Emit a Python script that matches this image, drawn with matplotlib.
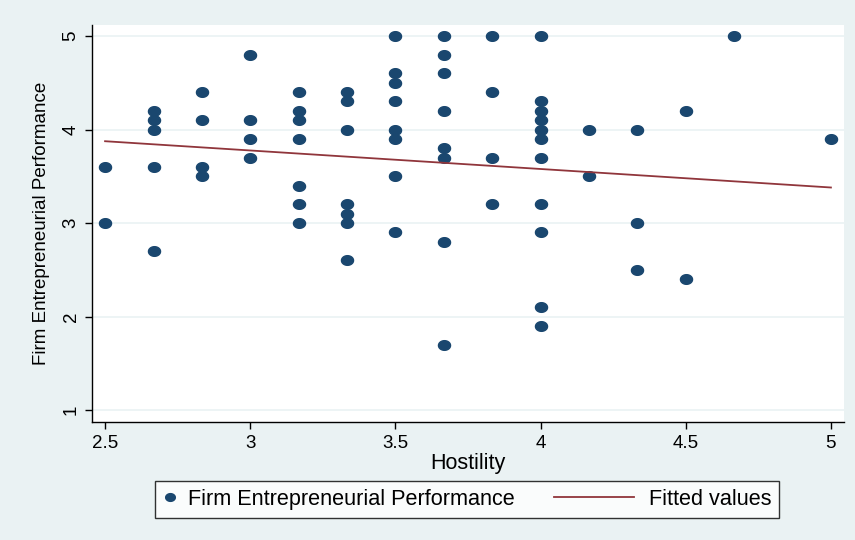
import numpy as np
import matplotlib
matplotlib.use("Agg")
import matplotlib.pyplot as plt
from matplotlib.path import Path
from matplotlib.legend_handler import HandlerLine2D

# data
hostility = [2.5, 2.5,
             2.667, 2.667, 2.667, 2.667, 2.667,
             2.833, 2.833, 2.833, 2.833,
             3.0, 3.0, 3.0, 3.0,
             3.167, 3.167, 3.167, 3.167, 3.167, 3.167, 3.167,
             3.333, 3.333, 3.333, 3.333, 3.333, 3.333, 3.333,
             3.5, 3.5, 3.5, 3.5, 3.5, 3.5, 3.5, 3.5,
             3.667, 3.667, 3.667, 3.667, 3.667, 3.667, 3.667, 3.667,
             3.833, 3.833, 3.833, 3.833,
             4.0, 4.0, 4.0, 4.0, 4.0, 4.0, 4.0, 4.0, 4.0, 4.0, 4.0,
             4.167, 4.167,
             4.333, 4.333, 4.333,
             4.5, 4.5,
             4.667,
             5.0]
performance = [3.6, 3.0,
               4.2, 4.1, 4.0, 3.6, 2.7,
               4.4, 4.1, 3.6, 3.5,
               4.8, 4.1, 3.9, 3.7,
               4.4, 4.2, 4.1, 3.9, 3.4, 3.2, 3.0,
               4.4, 4.3, 4.0, 3.2, 3.1, 3.0, 2.6,
               5.0, 4.6, 4.5, 4.3, 4.0, 3.9, 3.5, 2.9,
               5.0, 4.8, 4.6, 4.2, 3.8, 3.7, 2.8, 1.7,
               5.0, 4.4, 3.7, 3.2,
               5.0, 4.3, 4.2, 4.1, 4.0, 3.9, 3.7, 3.2, 2.9, 2.1, 1.9,
               4.0, 3.5,
               4.0, 3.0, 2.5,
               4.2, 2.4,
               5.0,
               3.9]
fit_x = [2.5, 5.0]
fit_y = [3.875, 3.38]

xticks = [2.5, 3, 3.5, 4, 4.5, 5]
xticklabels = ["2.5", "3", "3.5", "4", "4.5", "5"]
yticks = [1, 2, 3, 4, 5]

bg = "#EAF2F3"
navy = "#1A476F"
maroon = "#90353B"

plt.rcParams['font.family'] = ['Liberation Sans', 'DejaVu Sans']


# legend line that reaches further left than the (short) handle box
class LongLine(HandlerLine2D):
    def get_xdata(self, legend, xdescent, ydescent, width, height, fontsize):
        xd = np.array([-xdescent - 3.24 * fontsize, width - xdescent - 0.2 * fontsize])
        return xd, xd


# slightly wide elliptical marker
t = np.linspace(0, 2 * np.pi, 40)
ell = Path(np.column_stack([1.25 * np.cos(t), np.sin(t)]), closed=True)

fig = plt.figure(figsize=(8.55, 5.4), dpi=100, facecolor=bg)
ax = fig.add_axes([92 / 855, 1 - 422 / 540, (844 - 92) / 855, (422 - 25) / 540])
ax.set_facecolor("white")

for v in yticks:
    ax.axhline(v, color=bg, lw=1.2, zorder=0)

pts, = ax.plot(hostility, performance, linestyle="none", marker=ell,
               markersize=8.7, color=navy, label="Firm Entrepreneurial Performance", zorder=3)
fl, = ax.plot(fit_x, fit_y, color=maroon, lw=1.3, label="Fitted values", zorder=4)

ax.set_xlim(2.455, 5.045)
ax.set_ylim(0.872, 5.118)
ax.set_xticks(xticks)
ax.set_xticklabels(xticklabels)
ax.set_yticks(yticks)
ax.tick_params(axis="both", direction="out", length=5, width=1, labelsize=13.5, pad=4)
plt.setp(ax.get_yticklabels(), rotation=90, va="center")

for s in ["top", "right"]:
    ax.spines[s].set_visible(False)
ax.spines["left"].set_linewidth(1)
ax.spines["bottom"].set_linewidth(1)

ax.set_xlabel("Hostility", fontsize=15.5, labelpad=1)
ax.set_ylabel("Firm Entrepreneurial Performance", fontsize=13.5, labelpad=9)

leg = fig.legend(handles=[pts, fl], loc="center", bbox_to_anchor=(467.4 / 855, 1 - 499.5 / 540),
                 ncol=2, frameon=True, fancybox=False, fontsize=15.6, columnspacing=5.08,
                 handlelength=0.62, handletextpad=0.52, borderpad=0.35, borderaxespad=0,
                 markerscale=0.8, handler_map={fl: LongLine()})
leg.get_frame().set_edgecolor("black")
leg.get_frame().set_linewidth(1)
leg.get_frame().set_facecolor("white")

fig.savefig("out.png", dpi=100, facecolor=bg)
